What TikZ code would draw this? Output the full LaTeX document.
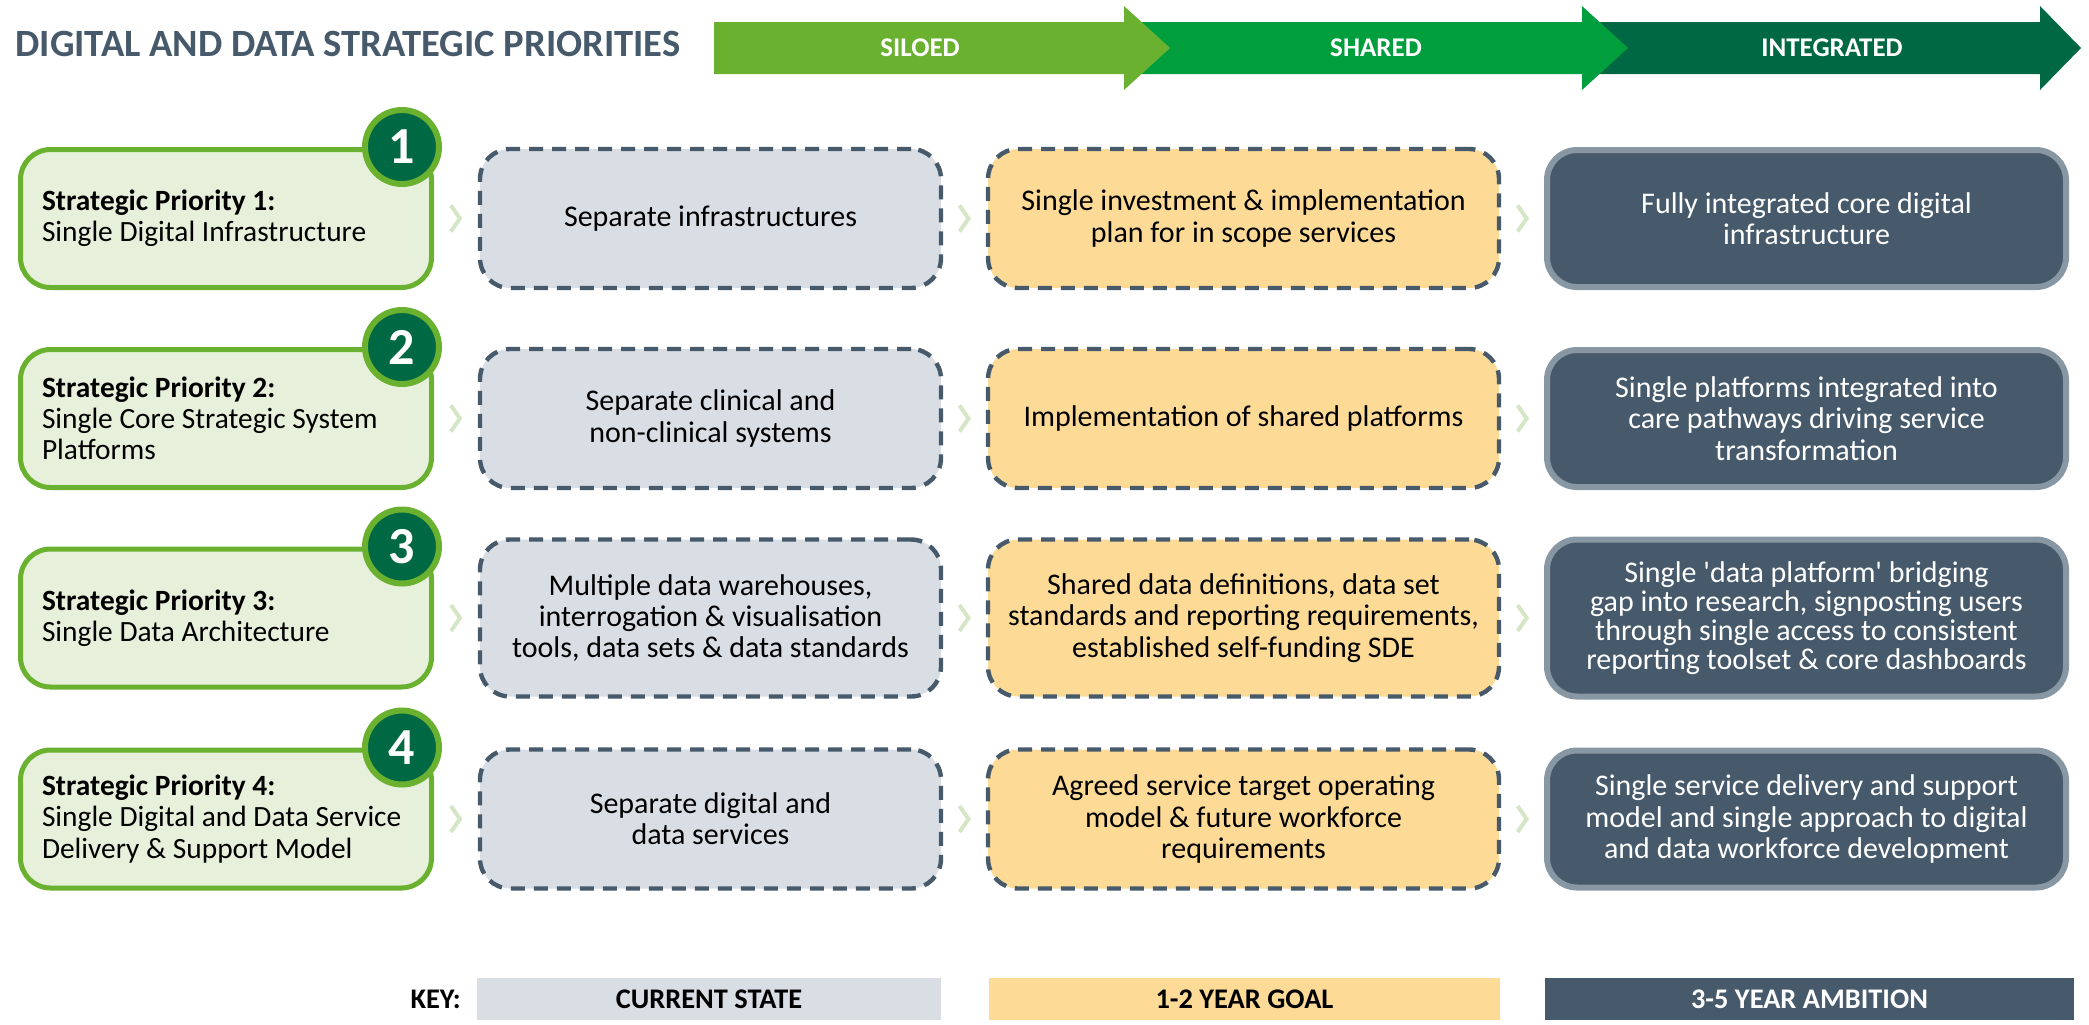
\documentclass[tikz,border=0pt]{standalone}
\usepackage{fontspec}
\setmainfont{Carlito}
\usepackage{tikz}
\usetikzlibrary{calc,positioning}

\definecolor{slate}{HTML}{475A6B}
\definecolor{leafgreen}{HTML}{6AB130}
\definecolor{meadow}{HTML}{009E3D}
\definecolor{forest}{HTML}{006944}
\definecolor{palegreen}{HTML}{E7F0DA}
\definecolor{nowgray}{HTML}{D9DEE5}
\definecolor{goalyellow}{HTML}{FDDB97}
\definecolor{aimgray}{HTML}{8797A4}
\definecolor{chevgreen}{HTML}{D4E6C5}

\tikzset{
  bodyfont/.style={font=\fontsize{15}{15.6}\selectfont},
  title/.style={anchor=west, inner sep=0pt, text=slate, font=\fontsize{19.3}{20}\selectfont\bfseries},
  band/.style={text=white, inner sep=0pt, font=\fontsize{13.5}{14}\selectfont\bfseries},
  prio/.style={font=\fontsize{14.7}{15.6}\selectfont, draw=leafgreen, line width=2.5pt, fill=palegreen, rounded corners=15pt,
    text width=184pt, inner xsep=10.75pt, minimum height=69pt, align=flush left},
  stage/.style={bodyfont, line width=2.2pt, rounded corners=15pt, minimum height=69.5pt, align=center},
  now/.style={stage, draw=slate, dash pattern=on 7pt off 4.5pt, fill=nowgray, minimum width=230.5pt},
  goal/.style={stage, draw=slate, dash pattern=on 7pt off 4.5pt, fill=goalyellow, minimum width=255.5pt},
  aim/.style={stage, draw=aimgray, line width=3pt, fill=slate, text=white, minimum width=259.5pt, minimum height=68.5pt},
  tall/.style={minimum height=78.5pt},
  badge/.style={circle, draw=leafgreen, line width=3pt, fill=forest, text=white, minimum size=37pt,
    inner sep=0pt, font=\fontsize{26}{26}\selectfont\bfseries},
  chev/.style={draw=chevgreen, line width=2pt},
  keybox/.style={minimum height=21pt, inner sep=0pt, font=\fontsize{14.2}{14}\selectfont\bfseries}
}

\begin{document}
\begin{tikzpicture}[x=0.5pt, y=-0.5pt]
\useasboundingbox (0,0) rectangle (2089,1024);
\node[title] (head) at (15,44) {DIGITAL AND DATA STRATEGIC PRIORITIES};
\fill[forest] (1582,22) -- (2040,22) -- (2040,6) -- (2081,48) -- (2040,90) -- (2040,74) -- (1582,74) -- cycle;
\fill[meadow] (1124,22) -- (1582,22) -- (1582,6) -- (1628,48) -- (1582,90) -- (1582,74) -- (1124,74) -- cycle;
\fill[leafgreen] (714,22) -- (1124,22) -- (1124,6) -- (1170,48) -- (1124,90) -- (1124,74) -- (714,74) -- cycle;
\node[band] (siloed) at (920,48) {SILOED};
\node[band] (shared) at (1376,48) {SHARED};
\node[band] (integrated) at (1832,48) {INTEGRATED};

\node[prio] (p1) at (226,218.5) {\textbf{Strategic Priority 1:}\\Single Digital Infrastructure};
\node[badge] (b1) at ([xshift=-16pt]p1.north east) {1};
\node[now] (n1) at (710.5,218.5) {Separate infrastructures};
\node[goal] (g1) at (1243.5,218.5) {Single investment \& implementation\\plan for in scope services};
\node[aim] (a1) at (1806.5,218.5) {Fully integrated core digital\\infrastructure};

\node[prio] (p2) at (226,418.5) {\textbf{Strategic Priority 2:}\\Single Core Strategic System\\Platforms};
\node[badge] (b2) at ([xshift=-16pt]p2.north east) {2};
\node[now] (n2) at (710.5,418.5) {Separate clinical and\\non-clinical systems};
\node[goal] (g2) at (1243.5,418.5) {Implementation of shared platforms};
\node[aim] (a2) at (1806.5,418.5) {Single platforms integrated into\\care pathways driving service\\transformation};

\node[prio] (p3) at (226,618) {\textbf{Strategic Priority 3:}\\Single Data Architecture};
\node[badge] (b3) at ([xshift=-16pt]p3.north east) {3};
\node[now, tall] (n3) at (710.5,618) {Multiple data warehouses,\\interrogation \& visualisation\\tools, data sets \& data standards};
\node[goal, tall] (g3) at (1243.5,618) {Shared data definitions, data set\\standards and reporting requirements,\\established self-funding SDE};
\node[aim, tall, font=\fontsize{15}{14.6}\selectfont] (a3) at (1806.5,618) {Single \textquotesingle data platform\textquotesingle{} bridging\\gap into research, signposting users\\through single access to consistent\\reporting toolset \& core dashboards};

\node[prio] (p4) at (226,819) {\textbf{Strategic Priority 4:}\\Single Digital and Data Service\\Delivery \& Support Model};
\node[badge] (b4) at ([xshift=-16pt]p4.north east) {4};
\node[now] (n4) at (710.5,819) {Separate digital and\\data services};
\node[goal] (g4) at (1243.5,819) {Agreed service target operating\\model \& future workforce\\requirements};
\node[aim] (a4) at (1806.5,819) {Single service delivery and support\\model and single approach to digital\\and data workforce development};

\foreach \r in {1,...,4} {
  \draw[chev] ($(p\r.east)!.5!(n\r.west)$) +(-5,-13) -- +(4,0) -- +(-5,13);
  \draw[chev] ($(n\r.east)!.5!(g\r.west)$) +(-5,-13) -- +(4,0) -- +(-5,13);
  \draw[chev] ($(g\r.east)!.5!(a\r.west)$) +(-5,-13) -- +(4,0) -- +(-5,13);
}

\node[keybox, anchor=east] (key) at (461,999) {KEY:};
\node[keybox, fill=nowgray, minimum width=232pt] (k1) at (709,999) {CURRENT STATE};
\node[keybox, fill=goalyellow, minimum width=255.5pt] (k2) at (1244.5,999) {1-2 YEAR GOAL};
\node[keybox, fill=slate, text=white, minimum width=264.5pt] (k3) at (1809.5,999) {3-5 YEAR AMBITION};
\end{tikzpicture}
\end{document}
